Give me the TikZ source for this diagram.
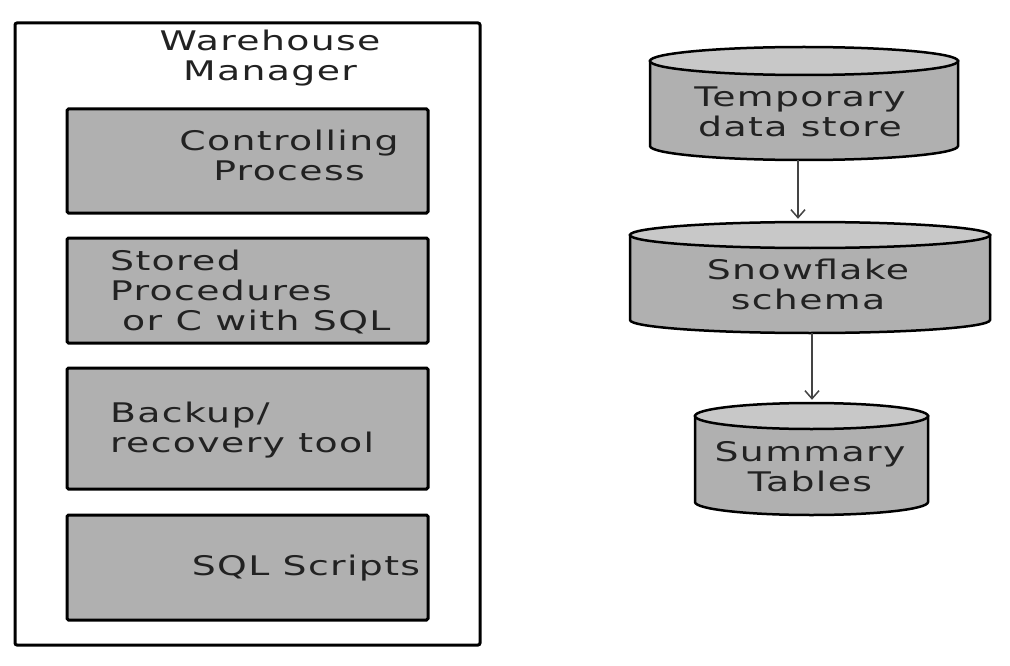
\documentclass[tikz,border=0pt]{standalone}
\usepackage{fontspec}
\setmainfont{DejaVu Sans}[FakeStretch=1.4,LetterSpace=5]
\usetikzlibrary{arrows.meta}
\definecolor{boxgray}{HTML}{B0B0B0}
\definecolor{topgray}{HTML}{C8C8C8}
\definecolor{txtcol}{HTML}{222222}
\definecolor{arrcol}{HTML}{444444}
\tikzset{
  outerbox/.style={draw=black, line width=3pt, rounded corners=2pt, fill=white, inner sep=0pt},
  procbox/.style={draw=black, line width=3pt, fill=boxgray, rounded corners=1.5pt, minimum width=361pt, inner sep=0pt},
  cylbody/.style={draw=black, line width=2.5pt, fill=boxgray},
  cyltop/.style={draw=black, line width=2.5pt, fill=topgray},
  arr/.style={draw=arrcol, line width=1.5pt, shorten >=3pt, -{Straight Barb[length=8pt,width=14pt]}},
  lbl/.style={text=txtcol, font=\fontsize{27}{30}\selectfont, inner sep=0pt}
}
\newcommand\dbcyl[6]{%
  \path[cylbody] (#2-#5,#3+#6) -- (#2-#5,#4-#6) arc[start angle=180,end angle=360,x radius=#5pt,y radius=#6pt] -- (#2+#5,#3+#6) -- cycle;
  \path[cyltop] (#2,#3+#6) ellipse[x radius=#5pt,y radius=#6pt];
  \node[inner sep=0pt, minimum width={2*#5*1pt}, minimum height={(#4-#3)*1pt}] (#1) at (#2,{(#3+#4)/2}) {};
}
\begin{document}
\begin{tikzpicture}[x=1pt,y=-1pt]
\useasboundingbox (0,0) rectangle (1010,666);
\fill[white] (0,0) rectangle (1010,666);
% warehouse manager
\node[outerbox, minimum width=465pt, minimum height=622pt] (wm) at (247.5,334) {};
\node[procbox, minimum height=104pt] (b1) at (247.5,161) {};
\node[procbox, minimum height=105pt] (b2) at (247.5,290.5) {};
\node[procbox, minimum height=121pt] (b3) at (247.5,428.5) {};
\node[procbox, minimum height=105pt] (b4) at (247.5,567.5) {};
\node[lbl, align=center] (t0) at (270,58) {Warehouse\\Manager};
\node[lbl, align=center] (t1) at (289,155) {Controlling\\Process};
\node[lbl, align=left, anchor=west] (t2) at (110,292) {Stored\\Procedures\\\hspace*{12pt}or C with SQL};
\node[lbl, align=left, anchor=west] (t3) at (110,430) {Backup/\\recovery tool};
\node[lbl] (t4) at (306,568) {SQL Scripts};
% cylinders
\dbcyl{c1}{804}{47}{160}{154}{14}
\dbcyl{c2}{810}{222}{333}{180}{13}
\dbcyl{c3}{811.5}{403}{515}{116.5}{13}
\node[lbl, align=center] (ct1) at (800,112) {Temporary\\data store};
\node[lbl, align=center] (ct2) at (808,284) {Snowflake\\schema};
\node[lbl, align=center] (ct3) at (810,467) {Summary\\Tables};
\draw[arr] ([xshift=-6pt]c1.south) -- ([xshift=-6pt]c1.south |- c2.north);
\draw[arr] ([xshift=2pt]c2.south) -- ([xshift=2pt]c2.south |- c3.north);
\end{tikzpicture}
\end{document}
